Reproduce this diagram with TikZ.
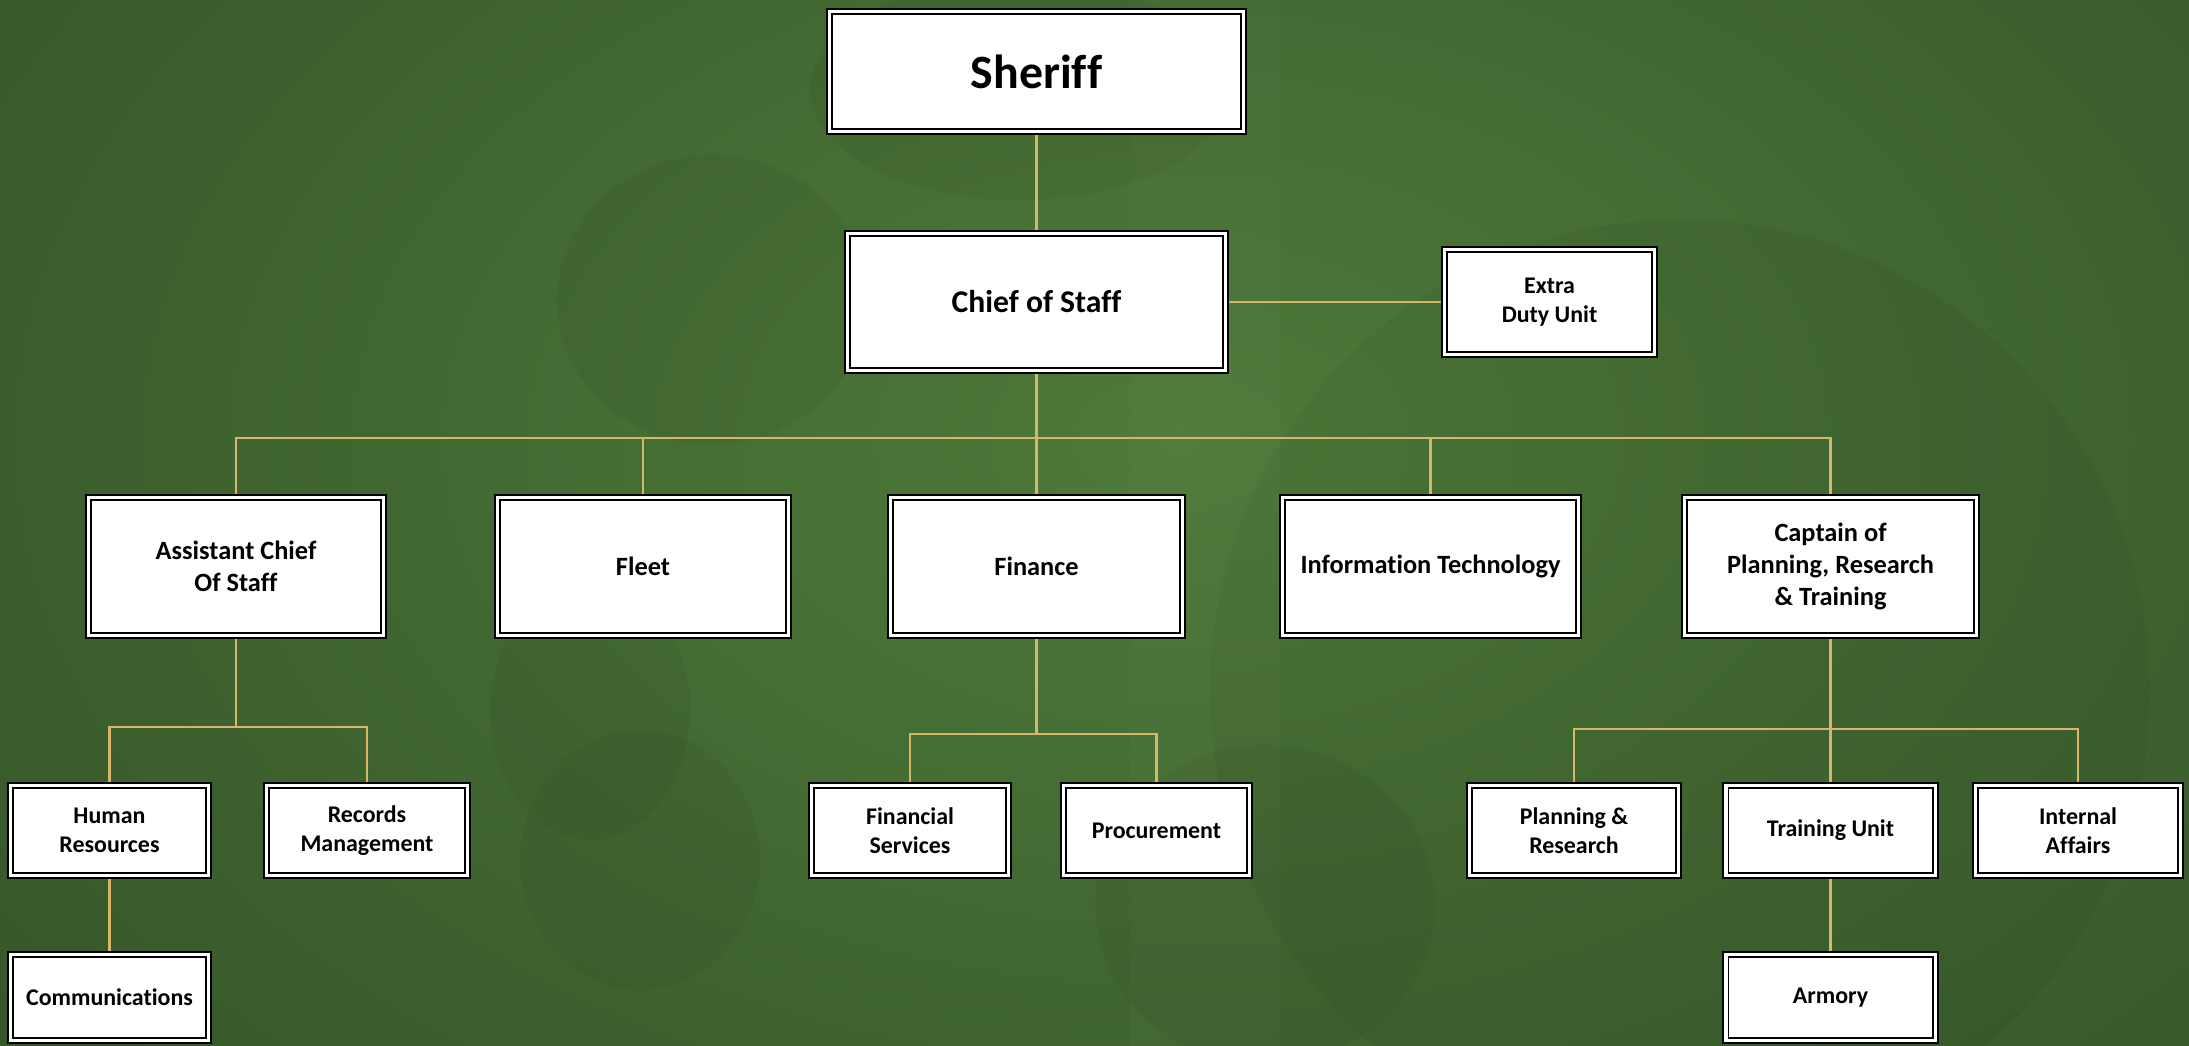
\documentclass[tikz,border=0pt]{standalone}
\usepackage{fontspec}
\setmainfont{Carlito}[Ligatures=NoCommon]
\pgfdeclarelayer{bg}
\pgfdeclarelayer{edges}
\pgfsetlayers{bg,edges,main}

\definecolor{bggreen}{RGB}{47,77,36}
\definecolor{glowgreen}{RGB}{78,122,58}
\definecolor{linkgold}{RGB}{214,182,104}

\tikzset{
  orgbox/.style={draw=black, fill=white, line width=0.55pt,
    double=white, double distance=0.9pt,
    inner sep=0pt, outer sep=0pt, align=center},
  toptext/.style={font=\bfseries\fontsize{13.6}{16}\selectfont},
  midtext/.style={font=\bfseries\fontsize{9}{11}\selectfont},
  deptext/.style={font=\bfseries\fontsize{7.5}{9.1}\selectfont},
  unittext/.style={font=\bfseries\fontsize{6.8}{8.1}\selectfont},
  link/.style={draw=linkgold, line width=0.6pt},
  ghost/.style={fill=black, opacity=0.04},
  shine/.style={fill=white, opacity=0.02}
}

\begin{document}
\begin{tikzpicture}[x=0.01cm, y=-0.01cm]
  \useasboundingbox (0,0) rectangle (2189,1046);

  % backdrop: dark green with a soft lighter glow and faint emblem shapes
  \begin{pgfonlayer}{bg}
    \fill[bggreen] (0,0) rectangle (2189,1046);
    \begin{scope}
      \clip (0,0) rectangle (2189,1046);
      \shade[inner color=glowgreen, outer color=bggreen]
        (1180,440) ellipse [x radius=1900, y radius=1250];
      \fill[shine] (1130,0) rectangle (1280,1046);
      \fill[ghost] (712,300) ellipse [x radius=155, y radius=145];
      \fill[ghost] (1680,690) circle [radius=470];
      \fill[ghost] (1265,905) ellipse [x radius=170, y radius=160];
      \fill[ghost] (590,710) ellipse [x radius=100, y radius=130];
      \fill[ghost] (640,860) ellipse [x radius=120, y radius=130];
      \fill[ghost] (1020,90) ellipse [x radius=210, y radius=110];
    \end{scope}
  \end{pgfonlayer}

  % top of the chart
  \node[orgbox, toptext, minimum width=4.14cm, minimum height=1.20cm] (sheriff) at (1036.5,71.5) {Sheriff};
  \node[orgbox, midtext, minimum width=3.78cm, minimum height=1.37cm] (chief) at (1036.5,302) {Chief of Staff};
  \node[orgbox, unittext, minimum width=2.10cm, minimum height=1.05cm] (extra) at (1549.5,302) {Extra\\Duty Unit};

  % divisions
  \node[orgbox, deptext, minimum width=2.95cm, minimum height=1.38cm] (acos) at (236,566.5) {Assistant Chief\\Of Staff};
  \node[orgbox, deptext, minimum width=2.91cm, minimum height=1.38cm] (fleet) at (643,566.5) {Fleet};
  \node[orgbox, deptext, minimum width=2.92cm, minimum height=1.38cm] (finance) at (1036.5,566.5) {Finance};
  \node[orgbox, deptext, minimum width=2.96cm, minimum height=1.38cm] (it) at (1430.5,566.5) {Information Technology};
  \node[orgbox, deptext, minimum width=2.92cm, minimum height=1.38cm] (captain) at (1830.5,566.5) {Captain of\\Planning, Research\\\& Training};

  % units
  \node[orgbox, unittext, minimum width=1.98cm, minimum height=0.90cm] (hr) at (109.5,830.5) {Human\\Resources};
  \node[orgbox, unittext, minimum width=2.01cm, minimum height=0.90cm] (records) at (367,830.5) {Records\\Management};
  \node[orgbox, unittext, minimum width=1.97cm, minimum height=0.90cm] (finserv) at (910,830.5) {Financial\\Services};
  \node[orgbox, unittext, minimum width=1.86cm, minimum height=0.90cm] (procure) at (1156.5,830.5) {Procurement};
  \node[orgbox, unittext, minimum width=2.09cm, minimum height=0.90cm] (planning) at (1574,830.5) {Planning \&\\Research};
  \node[orgbox, unittext, minimum width=2.09cm, minimum height=0.90cm] (training) at (1830.5,830.5) {Training Unit};
  \node[orgbox, unittext, minimum width=2.05cm, minimum height=0.90cm] (internal) at (2078,830.5) {Internal\\Affairs};

  % sub-units
  \node[orgbox, unittext, minimum width=1.98cm, minimum height=0.86cm] (comms) at (109.5,997.5) {Communications};
  \node[orgbox, unittext, minimum width=2.09cm, minimum height=0.86cm] (armory) at (1830.5,997.5) {Armory};

  % reporting lines
  \coordinate (bus) at (1036.5,438);
  \coordinate (acosbus) at (236,727);
  \coordinate (finbus) at (1036.5,734);
  \coordinate (capbus) at (1830.5,729);
  \begin{pgfonlayer}{edges}
    \draw[link] (sheriff.south) -- (chief.north);
    \draw[link] (chief.east) -- (extra.west);
    \draw[link] (chief.south) -- (bus);
    \draw[link] (acos.north) |- (bus) -| (captain.north);
    \draw[link] (fleet.north) -- (fleet.north |- bus);
    \draw[link] (finance.north) -- (finance.north |- bus);
    \draw[link] (it.north) -- (it.north |- bus);

    \draw[link] (acos.south) -- (acosbus);
    \draw[link] (hr.north) |- (acosbus) -| (records.north);
    \draw[link] (hr.south) -- (comms.north);

    \draw[link] (finance.south) -- (finbus);
    \draw[link] (finserv.north) |- (finbus) -| (procure.north);

    \draw[link] (captain.south) -- (capbus);
    \draw[link] (planning.north) |- (capbus) -| (internal.north);
    \draw[link] (training.north) -- (capbus);
    \draw[link] (training.south) -- (armory.north);
  \end{pgfonlayer}
\end{tikzpicture}
\end{document}
